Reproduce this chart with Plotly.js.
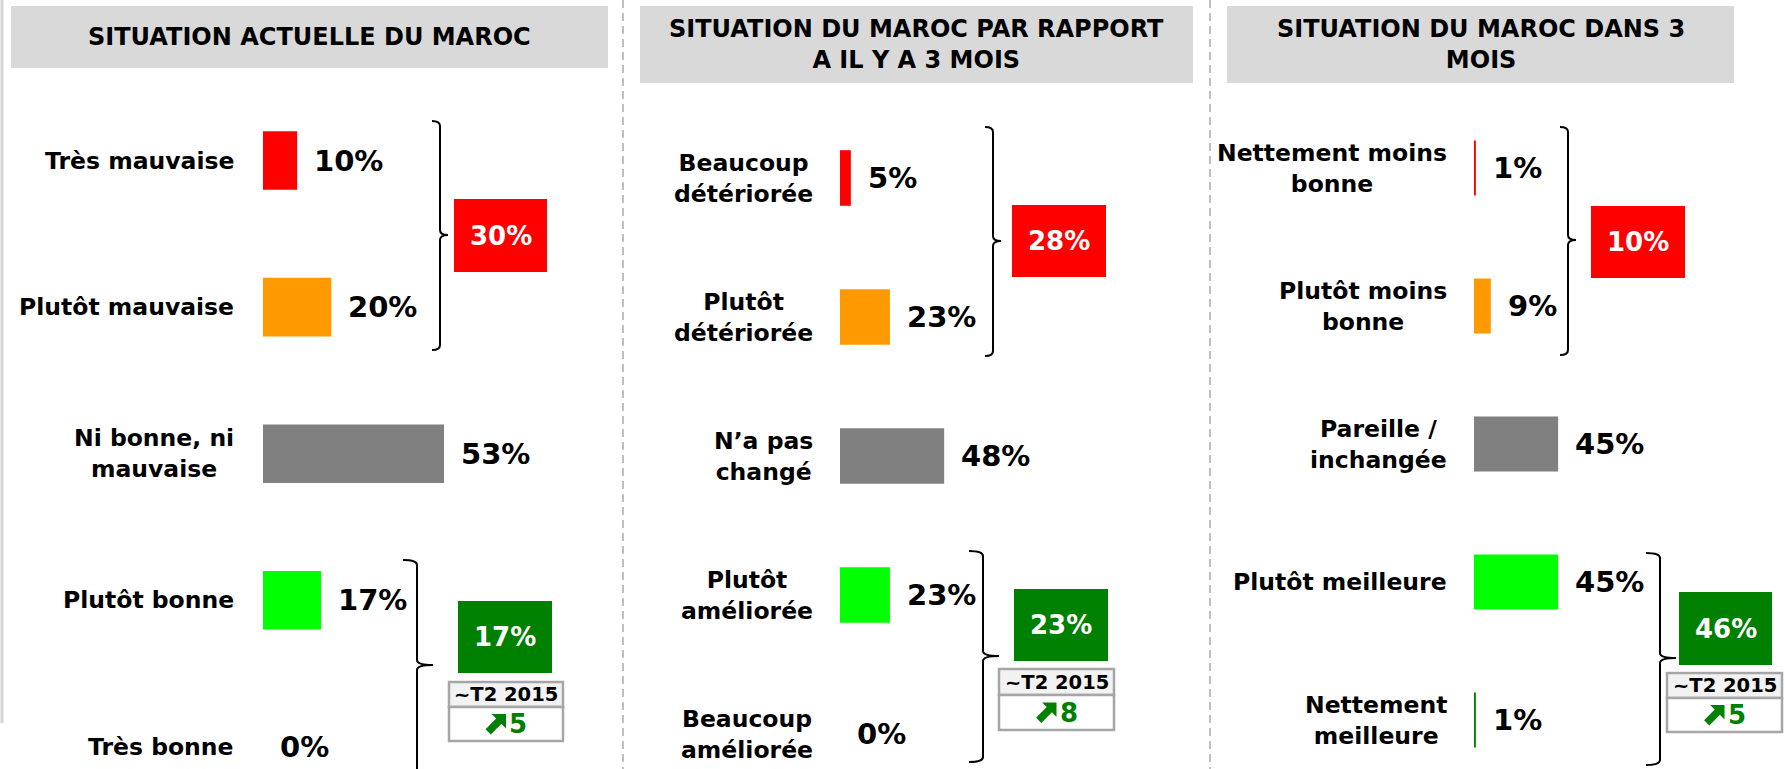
<!DOCTYPE html>
<html>
<head>
<meta charset="utf-8">
<script src="https://cdn.plot.ly/plotly-3.0.1.min.js"></script>
<style>
html,body{margin:0;padding:0;background:#ffffff;}
#chart{width:1785px;height:769px;}
</style>
</head>
<body>
<div id="chart"></div>
<script>
// ---------------- DATA ----------------
const titles = [
  'SITUATION ACTUELLE DU MAROC',
  'SITUATION DU MAROC PAR RAPPORT<br>A IL Y A 3 MOIS',
  'SITUATION DU MAROC DANS 3<br>MOIS'
];
const cats1 = ['Très mauvaise', 'Plutôt mauvaise', 'Ni bonne, ni<br>mauvaise', 'Plutôt bonne', 'Très bonne'];
const vals1 = [10, 20, 53, 17, 0];
const cats2 = ['Beaucoup<br>détériorée', 'Plutôt<br>détériorée', 'N’a pas<br>changé', 'Plutôt<br>améliorée', 'Beaucoup<br>améliorée'];
const vals2 = [5, 23, 48, 23, 0];
const cats3 = ['Nettement moins<br>bonne', 'Plutôt moins<br>bonne', 'Pareille /<br>inchangée', 'Plutôt meilleure', 'Nettement<br>meilleure'];
const vals3 = [1, 9, 45, 45, 1];
const barColors = ['#ff0000', '#ff9900', '#808080', '#00ff00', '#008000'];
const negTotals = [30, 28, 10];
const posTotals = [17, 23, 46];
const trendHeader = '~T2 2015';
const trends = [5, 8, 5];

// ---------------- LAYOUT GEOMETRY (pixels) ----------------
const W = 1785, H = 769;
const FONT = 'DejaVu Sans, Verdana, sans-serif';
const geo = [
  {x0:263, ppp:3.415, r0:160.5, step:146.6, labShift:-27,
   title:[11,608,6,68], red:[454,547,199,272], green:[458,552,601,673],
   table:[449,563,682,707,741], brTop:[440,121,235,350], brBot:[417,560,665,800]},
  {x0:840, ppp:2.17, r0:178, step:139, labShift:-25,
   title:[640,1193,6,83], red:[1012,1106,205,277], green:[1014,1108,589,661],
   table:[999,1114,669,695,730], brTop:[993,127,241,356], brBot:[983,551,656,762]},
  {x0:1474, ppp:1.87, r0:168, step:138, labShift:-25,
   title:[1227,1734,6,83], red:[1591,1685,206,278], green:[1679,1772,592,665],
   table:[1667,1782,673,698,732], brTop:[1568,127,240,355], brBot:[1660,553,658,765]}
];
const catsAll = [cats1, cats2, cats3];
const valsAll = [vals1, vals2, vals3];

const PX = x => x / W;
const PY = y => 1 - y / H;
function P(a, b){ return (a / W).toFixed(5) + ',' + (1 - b / H).toFixed(5); }
function brace(x, top, mid, bot, hook, notch, r){
  return 'M' + P(x - hook, top) + ' Q' + P(x, top) + ' ' + P(x, top + r) +
         ' L' + P(x, mid - r) + ' Q' + P(x, mid) + ' ' + P(x + notch, mid) +
         ' Q' + P(x, mid) + ' ' + P(x, mid + r) +
         ' L' + P(x, bot - r) + ' Q' + P(x, bot) + ' ' + P(x - hook, bot);
}
// thick north-east arrow inside box (left, top, size)
function arrowPath(l, t, s){
  const pts = [[1,0],[1,0.72],[0.77,0.49],[0.24,1.02],[-0.02,0.76],[0.51,0.23],[0.28,0]];
  return 'M' + pts.map(p => P(l + p[0] * s, t + p[1] * s)).join(' L') + ' Z';
}

const traces = [];
const shapes = [];
const annotations = [];
const layout = {
  width: W, height: H,
  margin: {l:0, r:0, t:0, b:0, pad:0},
  paper_bgcolor: '#ffffff', plot_bgcolor: 'rgba(0,0,0,0)',
  showlegend: false,
  font: {family: FONT, color: '#000000'}
};

// separators
shapes.push({type:'line', xref:'paper', yref:'paper', x0:PX(2), x1:PX(2), y0:PY(0), y1:PY(723),
  line:{color:'#d4d4d4', width:3}});
[623, 1210].forEach(x => shapes.push({type:'line', xref:'paper', yref:'paper', x0:PX(x), x1:PX(x), y0:PY(0), y1:PY(H),
  line:{color:'#bfbfbf', width:2, dash:'8px,5px'}}));

geo.forEach((g, i) => {
  const sfx = i === 0 ? '' : String(i + 1);
  const xa = 'x' + sfx, ya = 'y' + sfx;
  const cats = catsAll[i], vals = valsAll[i];

  layout['xaxis' + sfx] = {
    domain: [PX(g.x0), PX(g.x0 + g.ppp * 100)], range: [0, 100], anchor: ya,
    visible: false, showgrid: false, zeroline: false, fixedrange: true
  };
  layout['yaxis' + sfx] = {
    domain: [0, 1], type: 'category', categoryorder: 'array', categoryarray: cats,
    range: [(H - g.r0) / g.step, -g.r0 / g.step], anchor: xa,
    visible: false, showgrid: false, zeroline: false, fixedrange: true
  };

  traces.push({
    type: 'bar', orientation: 'h', x: vals, y: cats, xaxis: xa, yaxis: ya,
    width: 0.4, marker: {color: barColors, line: {width: 0}},
    hoverinfo: 'skip', showlegend: false, cliponaxis: false
  });

  cats.forEach((c, j) => {
    annotations.push({xref: xa, yref: ya, x: 0, y: c, xanchor: 'right', yanchor: 'middle',
      xshift: g.labShift, align: 'center', showarrow: false,
      text: '<b>' + c + '</b>', font: {family: FONT, size: 23.5, color: '#000000'}});
    annotations.push({xref: xa, yref: ya, x: vals[j], y: c, xanchor: 'left', yanchor: 'middle',
      xshift: 15, showarrow: false,
      text: '<b>' + vals[j] + '%</b>', font: {family: FONT, size: 29, color: '#000000'}});
  });

  // title box
  const t = g.title;
  shapes.push({type:'rect', xref:'paper', yref:'paper', x0:PX(t[0]), x1:PX(t[1]), y0:PY(t[3]), y1:PY(t[2]),
    fillcolor:'#d9d9d9', line:{width:0}, layer:'below'});
  annotations.push({xref:'paper', yref:'paper', x:PX((t[0] + t[1]) / 2), y:PY((t[2] + t[3]) / 2),
    xanchor:'center', yanchor:'middle', align:'center', showarrow:false,
    text:'<b>' + titles[i] + '</b>', font:{family:FONT, size:24, color:'#000000'}});

  // brackets
  const bt = g.brTop, bb = g.brBot;
  shapes.push({type:'path', xref:'paper', yref:'paper', path: brace(bt[0], bt[1], bt[2], bt[3], 8, 8, 5),
    line:{color:'#000000', width:2}});
  shapes.push({type:'path', xref:'paper', yref:'paper', path: brace(bb[0], bb[1], bb[2], bb[3], 14, 16, 5),
    line:{color:'#000000', width:2}});

  // summary boxes
  [[g.red, '#ff0000', negTotals[i]], [g.green, '#008000', posTotals[i]]].forEach(([b, col, v]) => {
    shapes.push({type:'rect', xref:'paper', yref:'paper', x0:PX(b[0]), x1:PX(b[1]), y0:PY(b[3]), y1:PY(b[2]),
      fillcolor:col, line:{width:0}});
    annotations.push({xref:'paper', yref:'paper', x:PX((b[0] + b[1]) / 2), y:PY((b[2] + b[3]) / 2),
      xanchor:'center', yanchor:'middle', showarrow:false,
      text:'<b>' + v + '%</b>', font:{family:FONT, size:26, color:'#ffffff'}});
  });

  // trend table
  const tb = g.table;
  const cx = (tb[0] + tb[1]) / 2;
  shapes.push({type:'rect', xref:'paper', yref:'paper', x0:PX(tb[0]), x1:PX(tb[1]), y0:PY(tb[3]), y1:PY(tb[2]),
    fillcolor:'#f2f2f2', line:{color:'#a6a6a6', width:2.5}});
  shapes.push({type:'rect', xref:'paper', yref:'paper', x0:PX(tb[0]), x1:PX(tb[1]), y0:PY(tb[4]), y1:PY(tb[3]),
    fillcolor:'#ffffff', line:{color:'#a6a6a6', width:2.5}});
  annotations.push({xref:'paper', yref:'paper', x:PX(cx), y:PY((tb[2] + tb[3]) / 2),
    xanchor:'center', yanchor:'middle', showarrow:false,
    text:'<b>' + trendHeader + '</b>', font:{family:FONT, size:19.5, color:'#000000'}});
  const rowMid = (tb[3] + tb[4]) / 2;
  shapes.push({type:'path', xref:'paper', yref:'paper', path: arrowPath(cx - 20, rowMid - 10, 20),
    fillcolor:'#008000', line:{width:0}});
  annotations.push({xref:'paper', yref:'paper', x:PX(cx + 1), y:PY(rowMid),
    xanchor:'left', yanchor:'middle', showarrow:false,
    text:'<b>' + trends[i] + '</b>', font:{family:FONT, size:26, color:'#008000'}});
});

layout.shapes = shapes;
layout.annotations = annotations;

Plotly.newPlot('chart', traces, layout, {staticPlot: true, displayModeBar: false});
</script>
</body>
</html>
